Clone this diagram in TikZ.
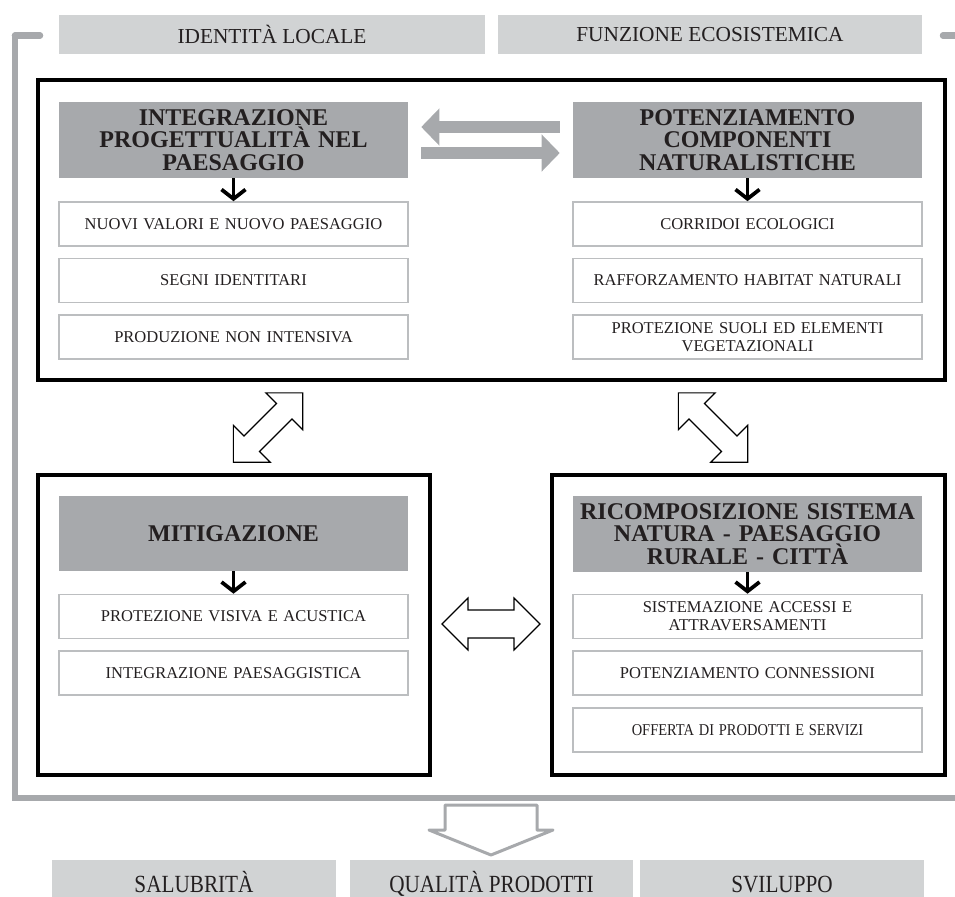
\documentclass[tikz,border=0pt]{standalone}
\usepackage{fontspec}
\setmainfont{Liberation Serif}
\usetikzlibrary{arrows.meta}
\definecolor{hdrgrey}{HTML}{A7A9AC}
\definecolor{labgrey}{HTML}{D1D3D4}
\definecolor{boxline}{HTML}{BCBEC0}
\definecolor{ink}{HTML}{231F20}

% outline double arrow: centre, rotation, half width of the shaft
\newcommand\twoway[3]{%
  \draw[outlinearrow, shift={#1}, rotate=#2]
    (49,0) -- (23,26) -- (23,#3) -- (-23,#3) -- (-23,26) -- (-49,0)
    -- (-23,-26) -- (-23,-#3) -- (23,-#3) -- (23,-26) -- cycle;}
% narrow setting for the outcome tags
\newcommand\narrowtext[1]{\scalebox{0.86}[1]{#1}}

\begin{document}
\begin{tikzpicture}[x=0.75pt,y=-0.75pt,
  tagbox/.style={fill=labgrey, draw=none, minimum width=#1, minimum height=29.25pt,
    inner sep=0pt, text=ink, font=\fontsize{16}{18}\selectfont},
  bottag/.style={fill=labgrey, draw=none, minimum width=#1, minimum height=36.75pt,
    inner sep=0pt, text=ink, text height=12pt, text depth=0pt,
    font=\fontsize{18.5}{20}\selectfont},
  headbox/.style={fill=hdrgrey, draw=none, minimum width=261.75pt, minimum height=57pt,
    inner sep=2pt, align=center, text width=256pt, text=ink,
    font=\bfseries\fontsize{18}{16.9}\selectfont},
  itembox/.style={draw=boxline, line width=1.2pt, fill=white, minimum width=261.75pt,
    minimum height=33pt, inner sep=1pt, align=center, text width=255pt, text=ink,
    font=\fontsize{12.4}{13.5}\selectfont},
  panel/.style={draw=black, line width=3pt, minimum height=225pt, inner sep=0pt},
  garrow/.style={draw=hdrgrey, line width=9pt, -{Triangle[length=13.5pt,width=27pt]},
    shorten <=9.75pt, shorten >=9.75pt},
  dnarrow/.style={draw=black, line width=2.8pt, -{Straight Barb[length=7pt,width=18pt]}},
  outlinearrow/.style={draw=black, line width=0.9pt, fill=white, line join=miter},
  framegrey/.style={draw=hdrgrey, line width=4.9pt}
]
\useasboundingbox (0,0) rectangle (955,896);
\clip (0,0) rectangle (955,896);

% grey frame round the four panels
\draw[framegrey, line cap=round] (40,35.5) -- (15,35.5);
\draw[framegrey, line join=miter] (15,35.5) -- (15,798) -- (962,798);
\draw[framegrey, line cap=round] (943,35.5) -- (962,35.5);

% top tags
\node[tagbox=319.5pt] (tag1) at (272,34.5) {IDENTITÀ LOCALE};
\node[tagbox=318pt] (tag2) at (710,34.5) {FUNZIONE ECOSISTEMICA};

% panels
\node[panel, minimum width=680.25pt] (ptop) at (491.5,230) {};
\node[panel, minimum width=294pt] (pmit) at (234,625) {};
\node[panel, minimum width=294.75pt] (pric) at (748.5,625) {};

% upper panel, left column
\node[headbox] (h1) at (233.5,140) {INTEGRAZIONE\\PROGETTUALITÀ NEL\\PAESAGGIO};
\node[itembox] (a1) at (233.5,224) {NUOVI VALORI E NUOVO PAESAGGIO};
\node[itembox] (a2) at (233.5,280.5) {SEGNI IDENTITARI};
\node[itembox] (a3) at (233.5,337) {PRODUZIONE NON INTENSIVA};
\draw[dnarrow] (h1.south) -- (a1.north);

% upper panel, right column
\node[headbox] (h2) at (747.5,140) {POTENZIAMENTO\\COMPONENTI\\NATURALISTICHE};
\node[itembox] (b1) at (747.5,224) {CORRIDOI ECOLOGICI};
\node[itembox] (b2) at (747.5,280.5) {RAFFORZAMENTO HABITAT NATURALI};
\node[itembox] (b3) at (747.5,337) {PROTEZIONE SUOLI ED ELEMENTI\\VEGETAZIONALI};
\draw[dnarrow] (h2.south) -- (b1.north);

% grey exchange arrows
\draw[garrow] ([yshift=9.75pt]h2.west) -- ([yshift=9.75pt]h1.east);
\draw[garrow] ([yshift=-9.75pt]h1.east) -- ([yshift=-9.75pt]h2.west);

% lower left panel
\node[headbox, minimum height=56.25pt] (h3) at (233.5,533.5) {MITIGAZIONE};
\node[itembox] (c1) at (233.5,616.5) {PROTEZIONE VISIVA E ACUSTICA};
\node[itembox] (c2) at (233.5,673) {INTEGRAZIONE PAESAGGISTICA};
\draw[dnarrow] (h3.south) -- (c1.north);

% lower right panel
\node[headbox] (h4) at (747.5,534) {RICOMPOSIZIONE SISTEMA\\NATURA - PAESAGGIO\\RURALE - CITTÀ};
\node[itembox] (d1) at (747.5,616.5) {SISTEMAZIONE ACCESSI E\\ATTRAVERSAMENTI};
\node[itembox] (d2) at (747.5,673) {POTENZIAMENTO CONNESSIONI};
\node[itembox] (d3) at (747.5,730) {\scalebox{0.875}[1]{OFFERTA DI PRODOTTI E SERVIZI}};
\draw[dnarrow] (h4.south) -- (d1.north);

% two-way arrows between panels
\twoway{(268,427.5)}{45}{11}
\twoway{(713,427.5)}{-45}{11}
\twoway{(491,624)}{0}{14}

% outcome arrow
\draw[draw=hdrgrey, line width=2.25pt, fill=white, line join=round]
  (445,805) -- (537,805) -- (537,830) -- (553,830) -- (491,855)
  -- (429,830) -- (445,830) -- cycle;

% outcome tags
\node[bottag=213pt] (o1) at (194,884) {\narrowtext{SALUBRITÀ}};
\node[bottag=212.25pt] (o2) at (491.5,884) {\narrowtext{QUALITÀ PRODOTTI}};
\node[bottag=213pt] (o3) at (782,884) {\narrowtext{SVILUPPO}};
\end{tikzpicture}
\end{document}
